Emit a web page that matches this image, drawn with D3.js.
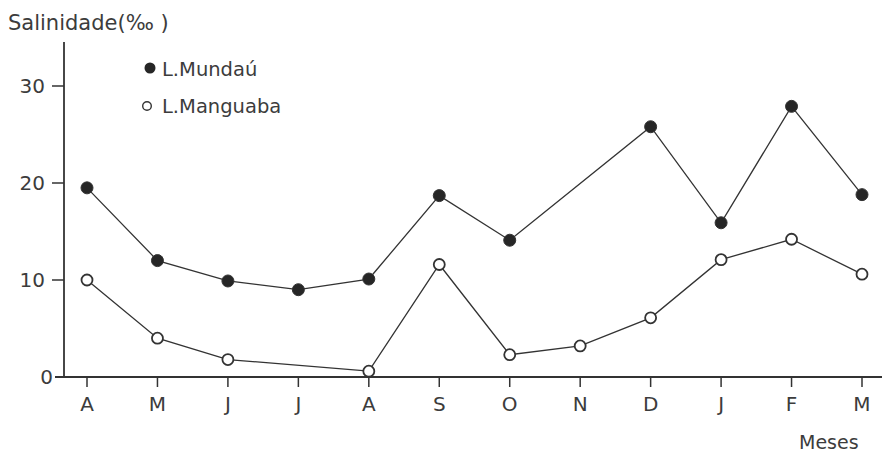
<!DOCTYPE html>
<html><head><meta charset="utf-8">
<script src="https://cdn.jsdelivr.net/npm/d3@7"></script>
<style>
body{margin:0;background:#fff;}
text{font-family:"DejaVu Sans","Liberation Sans",sans-serif;fill:#3c3c3c;}
</style></head>
<body><svg id="c" width="882" height="452"></svg>
<script>
const months = ["A","M","J","J","A","S","O","N","D","J","F","M"];
const mundau = [19.5, 12.0, 9.9, 9.0, 10.1, 18.7, 14.1, null, 25.8, 15.9, 27.9, 18.8];
const manguaba = [10.0, 4.0, 1.8, null, 0.6, 11.6, 2.3, 3.2, 6.1, 12.1, 14.2, 10.6];
const yTicks = [0, 10, 20, 30];
const seriesNames = ["L.Mundaú", "L.Manguaba"];

const svg = d3.select("#c");
const ink = "#333";
const x = d3.scalePoint().domain(d3.range(months.length)).range([87, 862]);
const y = d3.scaleLinear().domain([0, 30]).range([377, 86]);

// axes lines
svg.append("line").attr("x1",64).attr("x2",64).attr("y1",42).attr("y2",377).attr("stroke",ink).attr("stroke-width",1.8);
svg.append("line").attr("x1",55).attr("x2",882).attr("y1",377).attr("y2",377).attr("stroke",ink).attr("stroke-width",1.8);

// y ticks
yTicks.forEach(t=>{
  if (t!==0) svg.append("line").attr("x1",52).attr("x2",64).attr("y1",y(t)).attr("y2",y(t)).attr("stroke",ink).attr("stroke-width",1.5);
  svg.append("text").attr("x", t===0 ? 53 : 45).attr("y", y(t)).attr("dy","0.36em").attr("text-anchor","end")
    .attr("font-size",20).text(t);
});

// x ticks
months.forEach((m,i)=>{
  svg.append("line").attr("x1",x(i)).attr("x2",x(i)).attr("y1",377).attr("y2",387).attr("stroke",ink).attr("stroke-width",1.5);
  svg.append("text").attr("x",x(i)).attr("y",411).attr("text-anchor","middle").attr("font-size",20).text(m);
});

svg.append("text").attr("x",8).attr("y",30).attr("font-size",21).text("Salinidade(‰ )");
svg.append("text").attr("x",799).attr("y",449).attr("font-size",19).text("Meses");

function draw(vals, filled){
  const pts = vals.map((v,i)=>({i,v})).filter(d=>d.v!==null);
  svg.append("path").attr("d", d3.line().x(d=>x(d.i)).y(d=>y(d.v))(pts))
    .attr("fill","none").attr("stroke",ink).attr("stroke-width",1.3);
  svg.selectAll(null).data(pts).enter().append("circle")
    .attr("cx",d=>x(d.i)).attr("cy",d=>y(d.v)).attr("r",filled?6:5.5)
    .attr("fill",filled?"#262626":"#fff").attr("stroke",ink).attr("stroke-width",filled?1:1.8);
}
draw(mundau, true);
draw(manguaba, false);

// legend
svg.append("circle").attr("cx",150).attr("cy",68).attr("r",5.5).attr("fill","#262626");
svg.append("text").attr("x",162).attr("y",76).attr("font-size",19.5).text(seriesNames[0]);
svg.append("circle").attr("cx",147).attr("cy",106).attr("r",4.3).attr("fill","#fff").attr("stroke",ink).attr("stroke-width",1.4);
svg.append("text").attr("x",162).attr("y",113).attr("font-size",19.5).text(seriesNames[1]);
</script></body></html>
